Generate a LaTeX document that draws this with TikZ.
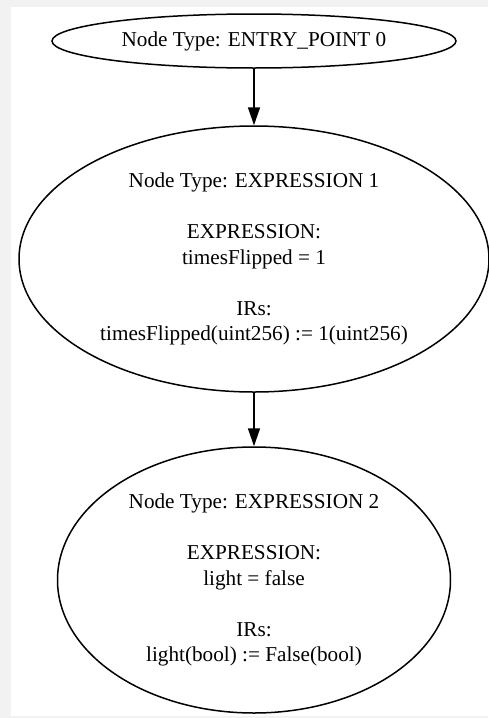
\documentclass[tikz,border=0pt]{standalone}
\usepackage{fontspec}
\setmainfont{Liberation Serif}
\usepackage{tikz}
\usetikzlibrary{arrows.meta,shapes.geometric}
\definecolor{framegray}{RGB}{242,242,242}
\tikzset{
  cfgnode/.style={ellipse,draw=black,line width=0.75pt,inner sep=0pt,align=center,
    font=\fontsize{10.6}{12.75}\selectfont},
  flow/.style={-{Triangle[length=9pt,width=6pt]},line width=0.75pt,draw=black}
}

\begin{document}
\begin{tikzpicture}[x=0.5pt,y=-0.5pt]
  % frame of the page
  \fill[framegray] (0,0) rectangle (488,718);
  \fill[white] (11,7) rectangle (488,716);
  \useasboundingbox (0,0) rectangle (488,718);

  \node[cfgnode,minimum width=202pt,minimum height=27pt] (entry) at (254,41)
    {Node Type: ENTRY\_POINT 0};
  \node[cfgnode,minimum width=235pt,minimum height=133pt] (expr1) at (254,259)
    {Node Type: EXPRESSION 1\\[12.75pt]
     EXPRESSION:\\ timesFlipped = 1\\[12.75pt]
     IRs:\\ timesFlipped(uint256) := 1(uint256)};
  \node[cfgnode,minimum width=196.5pt,minimum height=133pt] (expr2) at (254,580)
    {Node Type: EXPRESSION 2\\[12.75pt]
     EXPRESSION:\\ light = false\\[12.75pt]
     IRs:\\ light(bool) := False(bool)};

  \draw[flow] (entry) -- (expr1);
  \draw[flow] (expr1) -- (expr2);
\end{tikzpicture}
\end{document}
